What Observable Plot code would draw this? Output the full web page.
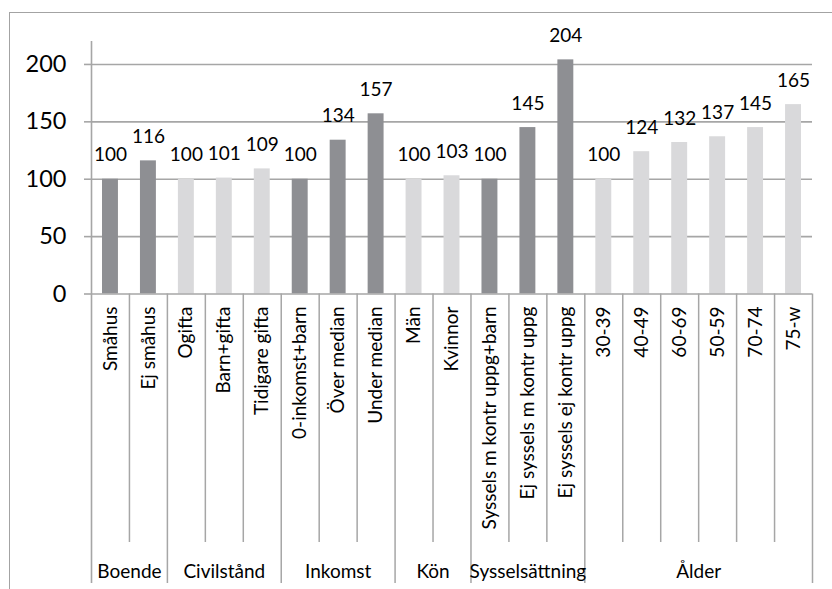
<!DOCTYPE html>
<html><head><meta charset="utf-8">
<script src="https://cdn.jsdelivr.net/npm/d3@7"></script>
<script src="https://cdn.jsdelivr.net/npm/@observablehq/plot@0.6"></script>
<style>
body{margin:0;background:#fff;}
#wrap{position:relative;width:832px;height:589px;overflow:hidden;}
#border{position:absolute;left:8.5px;top:11.5px;width:900px;height:700px;border-left:1.5px solid #a3a3a3;border-top:1.5px solid #a3a3a3;pointer-events:none;}
#chart{position:absolute;left:0;top:0;}
</style></head><body><div id="wrap"><div id="chart"></div><div id="border"></div></div>
<script>
const groups = ["Boende","Civilstånd","Inkomst","Kön","Sysselsättning","Ålder"];
const groupSizes = [2,3,3,2,3,6];
const groupColors = ["#8e8f93","#d9d9db","#8e8f93","#d9d9db","#8e8f93","#d9d9db"];
const categories = ["Småhus","Ej småhus","Ogifta","Barn+gifta","Tidigare gifta","0-inkomst+barn","Över median","Under median","Män","Kvinnor","Syssels m kontr uppg+barn","Ej syssels m kontr uppg","Ej syssels ej kontr uppg","30-39","40-49","60-69","50-59","70-74","75-w"];
const values = [100,116,100,101,109,100,134,157,100,103,100,145,204,100,124,132,137,145,165];
const yTicks = [0,50,100,150,200];

const rows = [];
const groupRows = [];
const groupBounds = [];
const innerBounds = [];
let k = 0;
groups.forEach((g, gi) => {
  const start = k;
  for (let j = 0; j < groupSizes[gi]; j++) {
    rows.push({i: k, category: categories[k], value: values[k], group: g, color: groupColors[gi]});
    if (j > 0) innerBounds.push(k);
    k++;
  }
  groupRows.push({mid: (start + k) / 2, label: g});
  groupBounds.push(k);
});

const gridColor = "#a6a6a6";
const fs = 19;
const chart = Plot.plot({
  width: 832, height: 589,
  marginLeft: 91, marginRight: 20, marginTop: 41, marginBottom: 295.5,
  x: {type: "linear", domain: [0, categories.length], axis: null},
  y: {domain: [0, 220], axis: null},
  color: {type: "identity"},
  style: {background: "transparent", fontFamily: "Lato, 'Open Sans', sans-serif", color: "#000"},
  marks: [
    Plot.gridY(yTicks.slice(1), {stroke: gridColor, strokeOpacity: 1, strokeWidth: 1.6}),
    Plot.rectY(rows, {x1: d => d.i + 0.29, x2: d => d.i + 0.71, y1: 0, y2: "value", fill: "color"}),
    Plot.ruleY([0], {stroke: gridColor, strokeWidth: 1.6}),
    Plot.axisY({ticks: yTicks, tickSize: 7, tickPadding: 18, fontSize: 23.5, stroke: gridColor, strokeWidth: 1.6, tickFormat: d => String(d), label: null}),
    Plot.ruleX([0], {stroke: gridColor, strokeWidth: 1.6, insetBottom: -289.5}),
    Plot.ruleX(innerBounds, {stroke: gridColor, strokeWidth: 1.5, insetTop: 252.5, insetBottom: -248.5}),
    Plot.ruleX(groupBounds, {stroke: gridColor, strokeWidth: 1.5, insetTop: 252.5, insetBottom: -289.5}),
    Plot.text(rows, {x: d => d.i + 0.5, y: "value", text: d => String(d.value), dy: -24, fontSize: fs, fill: "#000"}),
    Plot.text(rows, {x: d => d.i + 0.5, frameAnchor: "bottom", text: "category", rotate: -90, textAnchor: "end", lineAnchor: "middle", dy: 12.5, fontSize: fs, fill: "#000"}),
    Plot.text(groupRows, {x: "mid", frameAnchor: "bottom", text: "label", lineAnchor: "middle", dy: 277.5, fontSize: fs, fill: "#000"})
  ]
});
document.getElementById("chart").appendChild(chart);
</script>
</body></html>
